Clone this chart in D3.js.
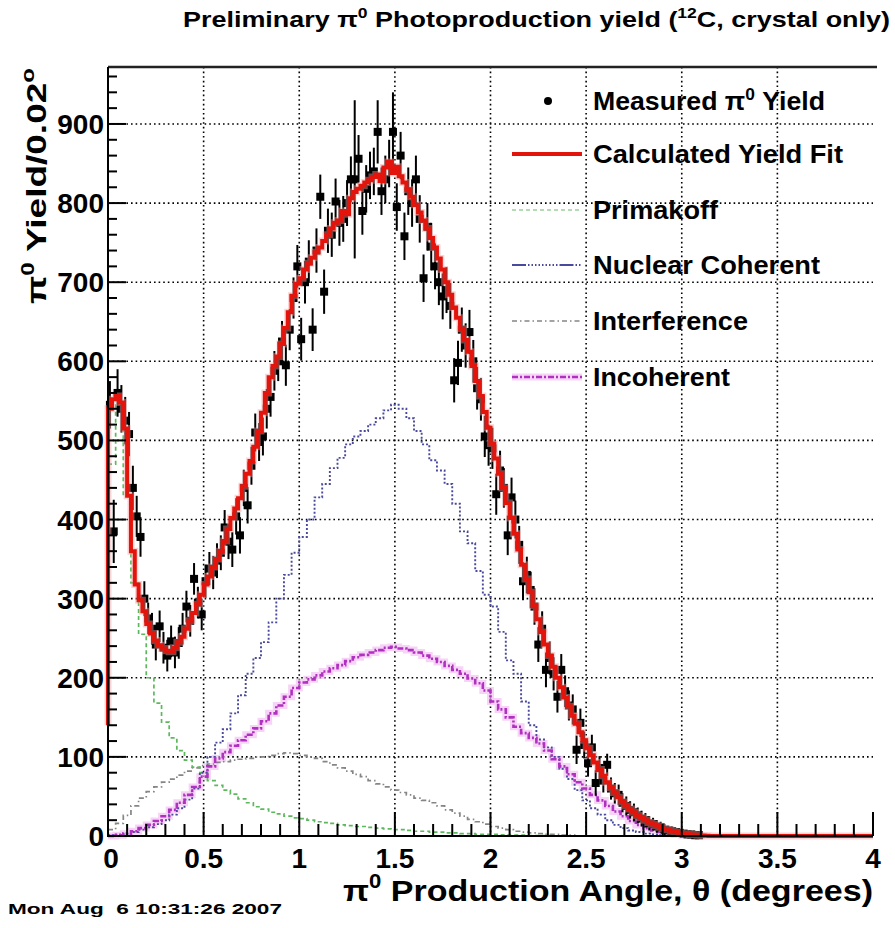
<!DOCTYPE html>
<html><head><meta charset="utf-8">
<script src="https://cdn.jsdelivr.net/npm/d3@7"></script>
<style>body{margin:0;background:#fff} text{font-family:"Liberation Sans",Arial,Helvetica,sans-serif}</style>
</head><body>
<svg id="c" width="895" height="928"></svg>
<script>
// ---------------- data ----------------
const BIN = 0.02;          // measured / fit bin width (deg)
const COMP_BIN = 0.04;     // component histogram bin width (deg)
const fitStart = 140;
const fitValues = [
540,552,556,548,515,430,360,318,298,284,
268,256,247,241,237,234,233,238,245,252,
262,272,282,293,305,318,328,340,350,360,
373,388,402,414,427,442,458,474,492,512,
535,560,580,594,606,622,642,662,683,698,
705,716,724,731,738,744,752,760,768,775,
778,790,786,806,814,818,822,826,829,833,
836,828,845,852,838,846,834,826,817,808,
798,788,778,768,756,744,730,716,700,684,
668,655,641,627,612,594,575,556,536,516,
496,477,458,440,421,402,382,362,343,325,
308,291,274,258,242,228,214,200,188,175,
164,152,142,131,121,111,102,93,84,76,
68,61,55,49,43,38,34,30,26,23,
20,17,15,13,11,9,8,6,5,4,
3,2.5,2,1.5,1,0.5,0.3,0,0,0,
0,0,0,0,0,0,0,0,0,0,
0,0,0,0,0,0,0,0,0,0,
0,0,0,0,0,0,0,0,0,0,
0,0,0,0,0,0,0,0,0,0];
const dataValues = [
545,385,560,540,525,508,440,404,378,300,
275,262,242,265,238,228,246,232,244,262,
290,272,325,295,280,322,338,333,348,358,
390,372,362,404,380,440,418,468,510,498,
505,540,555,588,600,625,595,640,680,720,
628,700,726,640,740,808,688,765,760,802,
775,780,800,830,830,856,790,818,835,840,
890,815,830,850,890,795,860,758,815,800,
830,780,705,770,745,720,700,682,690,670,
576,598,640,620,637,600,566,552,505,494,
490,432,462,440,380,428,400,368,322,330,
311,290,242,262,210,225,205,176,210,183,
165,160,109,143,115,92,112,67,86,70,
90,60,54,52,42,38,33,30,26,22,
20,16,15,12,11,8,7,6,5,4,
3,2,2,1,1];
const dataErrors = [
30,40,30,30,30,28,28,26,25,22,
20,20,20,20,20,20,20,20,20,20,
20,20,20,20,20,21,21,21,22,22,
22,22,22,23,23,23,23,24,24,24,
24,25,25,25,25,26,26,26,26,27,
27,27,27,27,28,28,28,28,28,29,
29,29,29,29,100,30,30,30,30,30,
40,30,30,30,50,30,30,30,30,30,
30,30,30,30,30,29,29,29,29,29,
28,28,28,28,28,27,27,27,26,26,
26,26,25,25,25,25,24,24,24,23,
23,23,22,22,22,21,21,20,20,20,
19,19,18,18,17,17,16,16,15,15,
14,14,13,13,12,12,11,11,10,10,
9,9,8,8,7,7,6,6,5,5,
4,4,3,3,2];
const primakoff = [
470,545,430,320,255,200,168,144,124,108,
96,87,80,70,64,58,53,47,42,37,
34,30,28,25,23,22,20,18,17,16,
14,13,12,12,11,10,9,8,8,7,
6,6,5,5,4,4,3,3,2,2,
2,1.5,1,1,1,0.5,0.5,0.5,0,0];
const nuclearCoherent = [
1,2,3,5,8,11,15,20,27,35,
46,60,80,100,118,135,155,178,205,225,
245,270,300,330,358,378,400,428,445,465,
478,495,505,512,520,528,538,545,540,528,
512,495,475,462,445,420,385,370,335,305,
290,258,222,205,170,140,122,112,100,85,
72,58,45,35,27,20,14,10,7,5,
3,2,1,1,0.5,0];
const interference = [
8,16,26,38,48,56,62,68,72,77,
82,86,89,91,93,94,96,97,98,100,
100,102,104,105,104,102,100,98,94,90,
86,82,78,75,70,66,62,58,55,52,
48,45,42,38,33,29,25,21,18,15,
12,10,8,6,5,4,3,2,2,1,
1,0];
const incoherent = [
0,1,3,6,10,14,19,25,33,42,
52,62,75,88,98,106,114,121,128,136,
145,155,165,176,187,194,198,203,208,212,
216,221,226,229,232,235,238,239,237,235,
232,228,224,220,215,210,205,199,193,184,
170,160,150,138,130,124,117,108,97,88,
78,68,60,52,45,38,31,25,19,14,
10,7,5,3,2,1,0.5,0];
const xTicks = [0,0.5,1,1.5,2,2.5,3,3.5,4];
const xTickLabels = ["0","0.5","1","1.5","2","2.5","3","3.5","4"];
const yTicks = [0,100,200,300,400,500,600,700,800,900];
const yTickLabels = ["0","100","200","300","400","500","600","700","800","900"];
const legendLabels = ["Measured π⁰ Yield","Calculated Yield Fit","Primakoff","Nuclear Coherent","Interference","Incoherent"];

// ---------------- layout ----------------
const svg = d3.select("#c");
const L = 108, R = 873, T = 67, B = 836;
const x = d3.scaleLinear().domain([0,4]).range([L,R]);
const y = d3.scaleLinear().domain([0,972]).range([B,T]);

// grid
const grid = svg.append("g").attr("stroke","#000").attr("stroke-width",1.6).attr("stroke-dasharray","1.6,3");
xTicks.slice(1,-1).forEach(t=>grid.append("line").attr("x1",x(t)).attr("x2",x(t)).attr("y1",T).attr("y2",B));
yTicks.slice(1).forEach(t=>grid.append("line").attr("x1",L).attr("x2",R).attr("y1",y(t)).attr("y2",y(t)));

function stepPts(vals, w, start){
  const pts = vals.map((v,i)=>[i*w, v]);
  pts.push([vals.length*w, vals[vals.length-1]]);
  if (start!==undefined) pts.unshift([0,start]);
  return pts;
}
const stepLine = d3.line().x(d=>x(d[0])).y(d=>y(d[1])).curve(d3.curveStepAfter);

// components
const comps = [
  {vals:interference, color:"#858585", w:1.7, dash:"5,3,1.5,3"},
  {vals:primakoff, color:"#5cb85c", w:1.7, dash:"4,3"},
  {vals:nuclearCoherent, color:"#4a4a9c", w:1.9, dash:"2,2"},
];
svg.append("path").attr("d",stepLine(stepPts(incoherent,COMP_BIN))).attr("fill","none")
  .attr("stroke","#f2b8f2").attr("stroke-width",7).attr("opacity",0.6);
comps.forEach(c=>svg.append("path").attr("d",stepLine(stepPts(c.vals,COMP_BIN))).attr("fill","none")
  .attr("stroke",c.color).attr("stroke-width",c.w).attr("stroke-dasharray",c.dash));
svg.append("path").attr("d",stepLine(stepPts(incoherent,COMP_BIN))).attr("fill","none")
  .attr("stroke","#b030c0").attr("stroke-width",2.6).attr("stroke-dasharray","6,2,2,2");

// measured data
const dg = svg.append("g");
dataValues.forEach((v,i)=>{
  const cx = x((i+0.5)*BIN), e = dataErrors[i];
  dg.append("line").attr("x1",cx).attr("x2",cx).attr("y1",y(Math.max(0,v-e))).attr("y2",y(v+e))
    .attr("stroke","#000").attr("stroke-width",2);
  dg.append("rect").attr("x",cx-4).attr("y",y(v)-4).attr("width",8).attr("height",8).attr("fill","#000");
});

// fit
svg.append("path").attr("d",stepLine(stepPts(fitValues,BIN,fitStart))).attr("fill","none")
  .attr("stroke","#f4a0a0").attr("stroke-width",7).attr("opacity",0.45);
svg.append("path").attr("d",stepLine(stepPts(fitValues,BIN,fitStart))).attr("fill","none")
  .attr("stroke","#e2140c").attr("stroke-width",4);

// axes frame
const ax = svg.append("g").attr("stroke","#000");
ax.append("line").attr("x1",L).attr("x2",R+4).attr("y1",T).attr("y2",T).attr("stroke-width",2.5).attr("stroke","#222");
ax.append("line").attr("x1",L).attr("x2",L).attr("y1",T).attr("y2",B+1).attr("stroke-width",2);
ax.append("line").attr("x1",L).attr("x2",R).attr("y1",B).attr("y2",B).attr("stroke-width",2);
d3.range(0,4.001,0.1).forEach(t=>{
  const major = Math.abs(t*2-Math.round(t*2))<1e-6;
  ax.append("line").attr("x1",x(t)).attr("x2",x(t)).attr("y1",B).attr("y2",B-(major?24:12)).attr("stroke-width",2);
});
d3.range(0,961,20).forEach(t=>{
  const major = t%100===0;
  ax.append("line").attr("x1",L).attr("x2",L+(major?18:9)).attr("y1",y(t)).attr("y2",y(t)).attr("stroke-width",2);
});
const tl = svg.append("g").attr("font-size",28).attr("font-weight","bold").attr("fill","#000");
xTicks.forEach((t,i)=>tl.append("text").attr("x",x(t)+(i===0?3:0)).attr("y",868).attr("text-anchor","middle").text(xTickLabels[i]));
yTicks.forEach((t,i)=>tl.append("text").attr("x",104).attr("y",y(t)+10).attr("text-anchor","end").text(yTickLabels[i]));

// rich text helper: [text, isSup]
function rich(sel, base, parts){
  let up = false;
  parts.forEach(p=>{
    const ts = sel.append("tspan");
    if (p[1]) { ts.attr("dy", -0.42*base).attr("font-size", 0.65*base); up = true; }
    else { ts.attr("dy", up ? 0.42*base : 0); up = false; }
    ts.text(p[0]);
  });
  return sel;
}
// title
rich(svg.append("text").attr("x",183).attr("y",27).attr("font-size",22).attr("font-weight","bold")
  .attr("textLength",707).attr("lengthAdjust","spacingAndGlyphs"), 22,
  [["Preliminary π"],["0",1],[" Photoproduction yield ("],["12",1],["C, crystal only)"]]);
// y title
rich(svg.append("text").attr("transform","translate(46,68) rotate(-90)").attr("text-anchor","end")
  .attr("font-size",28).attr("font-weight","bold").attr("textLength",236).attr("lengthAdjust","spacingAndGlyphs"), 28,
  [["π"],["0",1],[" Yield/0.02"],["o",1]]);
// x title
rich(svg.append("text").attr("x",873).attr("y",901).attr("text-anchor","end").attr("font-size",30).attr("font-weight","bold")
  .attr("textLength",530).attr("lengthAdjust","spacingAndGlyphs"), 30,
  [["π"],["0",1],[" Production Angle, θ (degrees)"]]);
// timestamp
svg.append("text").attr("x",8).attr("y",914).attr("font-size",14).attr("font-weight","bold")
  .attr("textLength",274).attr("lengthAdjust","spacingAndGlyphs")
  .style("white-space","pre").text("Mon Aug  6 10:31:26 2007");

// legend
const lg = svg.append("g");
const ly = [101,154,210,265,321,377];
const lx0 = 512, lx1 = 582, tx = 593;
lg.append("circle").attr("cx",548).attr("cy",ly[0]).attr("r",4).attr("fill","#000");
lg.append("line").attr("x1",lx0).attr("x2",lx1).attr("y1",ly[1]).attr("y2",ly[1]).attr("stroke","#e2140c").attr("stroke-width",4);
lg.append("line").attr("x1",lx0).attr("x2",lx1).attr("y1",ly[2]).attr("y2",ly[2]).attr("stroke","#9ccf9c").attr("stroke-width",1.6).attr("stroke-dasharray","4,3");
lg.append("line").attr("x1",lx0).attr("x2",lx1).attr("y1",ly[3]).attr("y2",ly[3]).attr("stroke","#4a4a9c").attr("stroke-width",1.8).attr("stroke-dasharray","14,2,1.5,2,1.5,2,1.5,2,1.5,2,1.5,2,1.5,2,1.5,2,1.5,2,1.5,2");
lg.append("line").attr("x1",lx0).attr("x2",lx1).attr("y1",ly[4]).attr("y2",ly[4]).attr("stroke","#858585").attr("stroke-width",1.6).attr("stroke-dasharray","5,3,1.5,3");
lg.append("line").attr("x1",lx0).attr("x2",lx1).attr("y1",ly[5]).attr("y2",ly[5]).attr("stroke","#f2b8f2").attr("stroke-width",7).attr("opacity",0.6);
lg.append("line").attr("x1",lx0).attr("x2",lx1).attr("y1",ly[5]).attr("y2",ly[5]).attr("stroke","#b030c0").attr("stroke-width",2.6).attr("stroke-dasharray","6,2,2,2");
const legW = [232,250,125,227,155,137];
legendLabels.forEach((s,i)=>{
  const t = lg.append("text").attr("x",tx).attr("y",ly[i]+9).attr("font-size",25).attr("font-weight","bold")
    .attr("textLength",legW[i]).attr("lengthAdjust","spacingAndGlyphs");
  if (i===0) rich(t, 25, [["Measured π"],["0",1],[" Yield"]]);
  else t.text(s);
});
</script>
</body></html>
